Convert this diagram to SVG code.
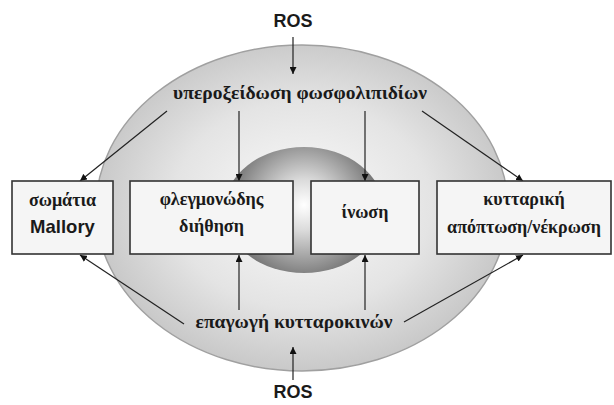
<svg xmlns="http://www.w3.org/2000/svg" width="614" height="405" viewBox="0 0 614 405">
  <style>
    .box { fill: #f5f5f5; stroke: #333; stroke-width: 1.6; }
    .gr { font-family: "Liberation Serif", "Times New Roman", serif; font-weight: bold; font-size: 18px; fill: #1a1a1a; text-anchor: middle; }
    .big { font-size: 19.5px; }
    .lat { font-family: "Liberation Sans", Arial, sans-serif; font-weight: bold; font-size: 18px; fill: #1a1a1a; text-anchor: middle; }
    .conn line { stroke: #222; stroke-width: 1.2; marker-end: url(#arrow); }
  </style>
  <defs>
    <marker id="arrow" viewBox="0 0 10 10" refX="10" refY="5" markerWidth="7" markerHeight="7" markerUnits="userSpaceOnUse" orient="auto">
      <path d="M0,0 L10,5 L0,10 z" fill="#111"/>
    </marker>
    <radialGradient id="outerFill" cx="302" cy="205" r="215" gradientUnits="userSpaceOnUse" gradientTransform="translate(302 205) scale(1 0.8) translate(-302 -205)">
      <stop offset="0" stop-color="#fbfbfb"/>
      <stop offset="0.6" stop-color="#e4e4e4"/>
      <stop offset="1" stop-color="#c6c6c6"/>
    </radialGradient>
    <radialGradient id="coreFill" cx="304" cy="205" r="86" gradientUnits="userSpaceOnUse">
      <stop offset="0" stop-color="#ffffff"/>
      <stop offset="0.3" stop-color="#dadada"/>
      <stop offset="0.65" stop-color="#9c9c9c"/>
      <stop offset="1" stop-color="#5e5e5e"/>
    </radialGradient>
  </defs>

  <!-- background shapes -->
  <g id="outer-ellipse">
    <ellipse cx="302" cy="208" rx="206" ry="163" fill="url(#outerFill)" stroke="#a0a0a0" stroke-width="1.5"/>
  </g>
  <g id="core">
    <ellipse cx="304" cy="210" rx="80" ry="63" fill="url(#coreFill)"/>
  </g>

  <!-- connectors -->
  <g class="conn" id="connectors">
    <line x1="293" y1="37" x2="293" y2="74"/>
    <line x1="167" y1="111" x2="80" y2="181"/>
    <line x1="239" y1="111" x2="239" y2="181"/>
    <line x1="365" y1="111" x2="365" y2="181"/>
    <line x1="422" y1="111" x2="523" y2="181"/>
    <line x1="184" y1="324" x2="80" y2="255"/>
    <line x1="239" y1="310" x2="239" y2="255"/>
    <line x1="365" y1="310" x2="365" y2="255"/>
    <line x1="404" y1="322" x2="523" y2="255"/>
    <line x1="293" y1="380" x2="293" y2="347"/>
  </g>

  <!-- labels -->
  <g id="ros-top"><text class="lat" x="293" y="27">ROS</text></g>
  <g id="lipid-peroxidation"><text class="gr big" x="300" y="99">υπεροξείδωση φωσφολιπιδίων</text></g>
  <g id="cytokine-induction"><text class="gr big" x="294" y="328">επαγωγή κυτταροκινών</text></g>
  <g id="ros-bottom"><text class="lat" x="293" y="398">ROS</text></g>

  <!-- outcome boxes -->
  <g id="mallory">
    <rect class="box" x="12" y="181" width="101" height="73"/>
    <text class="gr" x="62.5" y="206">σωμάτια</text>
    <text class="lat" x="62.5" y="233" style="font-size:18.5px">Mallory</text>
  </g>
  <g id="inflammation">
    <rect class="box" x="130" y="181" width="163" height="73"/>
    <text class="gr" x="211.5" y="205">φλεγμονώδης</text>
    <text class="gr" x="211.5" y="232">διήθηση</text>
  </g>
  <g id="fibrosis">
    <rect class="box" x="311" y="181" width="108" height="73"/>
    <text class="gr" x="365" y="218">ίνωση</text>
  </g>
  <g id="cell-death">
    <rect class="box" x="437" y="181" width="174" height="73"/>
    <text class="gr" x="524" y="205">κυτταρική</text>
    <text class="gr" x="524" y="233">απόπτωση/νέκρωση</text>
  </g>
</svg>
